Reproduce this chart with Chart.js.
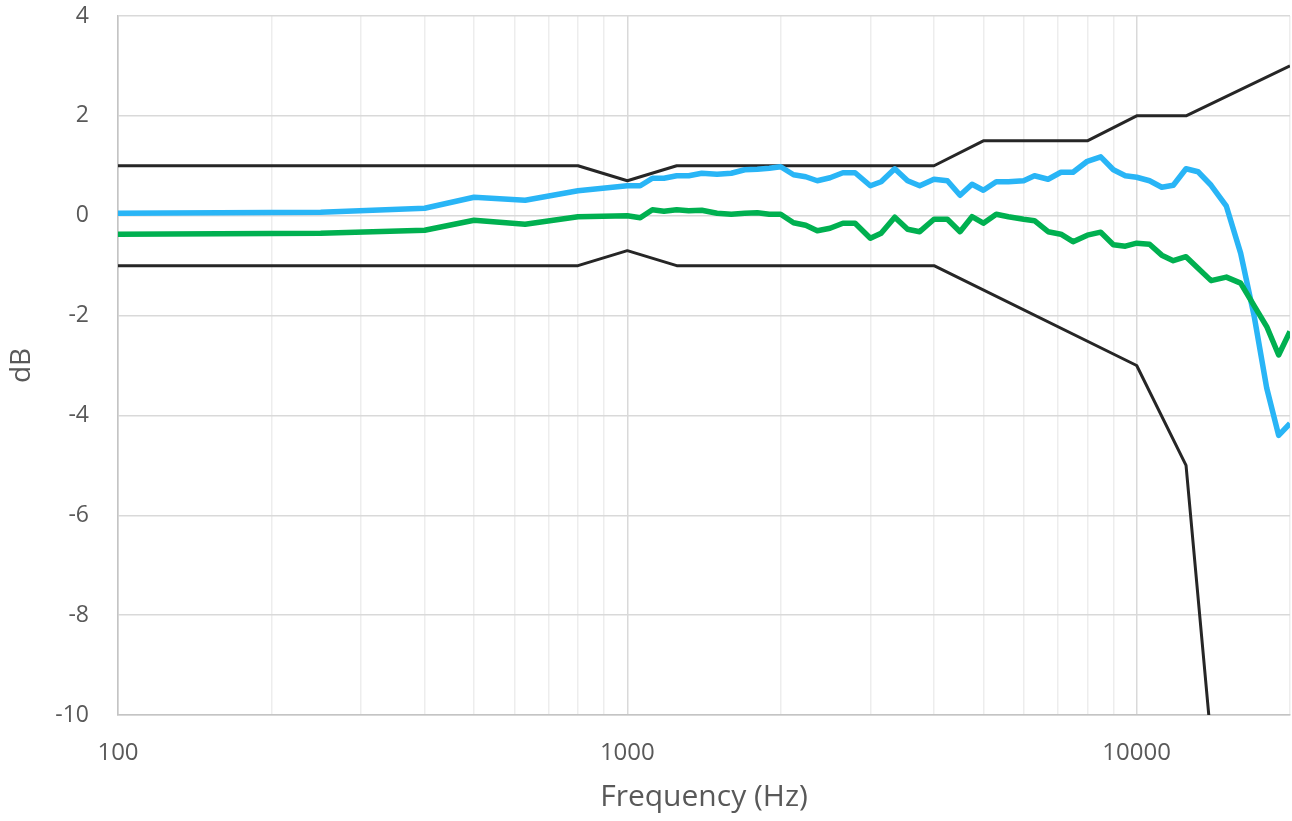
<!DOCTYPE html>
<html>
<head>
<meta charset="utf-8">
<title>Frequency response</title>
<script src="https://cdn.jsdelivr.net/npm/chart.js@4.4.1/dist/chart.umd.min.js"></script>
<style>
  html, body { margin: 0; padding: 0; background: #fff; }
  #wrap { width: 1292px; height: 821px; position: relative; }
</style>
</head>
<body>
<div id="wrap"><canvas id="chart"></canvas></div>
<script>
// Measured points (Hz)
const freqs = [
    100, 250, 400, 500, 630, 800,
    1000, 1060, 1120, 1180, 1250, 1320, 1400, 1500, 1600, 1700, 1800, 1900,
    2000, 2120, 2240, 2360, 2500, 2650, 2800, 3000, 3150, 3350, 3550, 3750,
    4000, 4250, 4500, 4750, 5000, 5300, 5600, 6000, 6300, 6700, 7100, 7500,
    8000, 8500, 9000, 9500, 10000, 10600, 11200, 11800, 12500, 13200, 14000,
    15000, 16000, 17000, 18000, 19000, 20000
];

const blueDb = [
    0.05, 0.07, 0.15, 0.37, 0.31, 0.50,
    0.60, 0.60, 0.75, 0.75, 0.80, 0.80, 0.85, 0.83, 0.85, 0.92, 0.93, 0.95,
    0.98, 0.82, 0.78, 0.70, 0.76, 0.86, 0.86, 0.60, 0.68, 0.94, 0.70, 0.60,
    0.73, 0.70, 0.41, 0.63, 0.51, 0.68, 0.68, 0.70, 0.80, 0.73, 0.87, 0.87,
    1.09, 1.18, 0.92, 0.80, 0.77, 0.70, 0.57, 0.61, 0.94, 0.88, 0.61,
    0.19, -0.75, -2.00, -3.45, -4.40, -4.16
];

const greenDb = [
    -0.37, -0.35, -0.29, -0.09, -0.17, -0.02,
    0.00, -0.04, 0.12, 0.09, 0.12, 0.10, 0.11, 0.05, 0.03, 0.05, 0.06, 0.03,
    0.03, -0.14, -0.19, -0.30, -0.25, -0.15, -0.15, -0.45, -0.35, -0.03, -0.27, -0.32,
    -0.07, -0.07, -0.32, -0.02, -0.15, 0.03, -0.02, -0.07, -0.10, -0.32, -0.37, -0.52,
    -0.39, -0.33, -0.58, -0.61, -0.55, -0.57, -0.79, -0.90, -0.82, -1.05, -1.30,
    -1.23, -1.35, -1.80, -2.22, -2.79, -2.32
];

// Tolerance limits
const upperFreqs = [100, 800, 1000, 1250, 4000, 5000, 8000, 10000, 12500, 20000];
const upperDb = [1, 1, 0.7, 1, 1, 1.5, 1.5, 2, 2, 3];
const lowerFreqs = [100, 800, 1000, 1250, 4000, 10000, 12500, 16000];
const lowerDb = [-1, -1, -0.7, -1, -1, -3, -5, -17];

// Axis ticks / gridlines
const xGridTicks = [
    100, 200, 300, 400, 500, 600, 700, 800, 900,
    1000, 2000, 3000, 4000, 5000, 6000, 7000, 8000, 9000,
    10000, 20000
];
const xLabelTicks = [100, 1000, 10000];

const FONT = '"Open Sans", "DejaVu Sans", sans-serif';
const TEXT = '#595959';

function toPoints(xs, ys) {
    return xs.map((x, i) => ({ x: x, y: ys[i] }));
}

function lineSet(label, xs, ys, color, width) {
    return {
        label: label,
        data: toPoints(xs, ys),
        borderColor: color,
        backgroundColor: color,
        borderWidth: width,
        pointRadius: 0,
        tension: 0,
        fill: false,
        borderJoinStyle: 'round',
        borderCapStyle: 'butt'
    };
}

new Chart(document.getElementById('chart'), {
    type: 'line',
    data: {
        datasets: [
            lineSet('Response 2', freqs, greenDb, '#00B050', 5.5),
            lineSet('Response 1', freqs, blueDb, '#29B5F6', 5.5),
            lineSet('Upper limit', upperFreqs, upperDb, '#262626', 3),
            lineSet('Lower limit', lowerFreqs, lowerDb, '#262626', 3)
        ]
    },
    options: {
        responsive: true,
        maintainAspectRatio: false,
        animation: false,
        layout: { padding: { left: 0, top: 16, right: 2, bottom: 0 } },
        plugins: {
            legend: { display: false },
            tooltip: { enabled: false }
        },
        scales: {
            x: {
                type: 'logarithmic',
                min: 100,
                max: 20000,
                afterBuildTicks: function(scale) {
                    scale.ticks = xGridTicks.map(v => ({ value: v }));
                },
                afterFit: function(scale) {
                    scale.height = 106;
                    scale.paddingLeft = 0;
                    scale.paddingRight = 0;
                },
                grid: {
                    drawTicks: false,
                    color: ctx => xLabelTicks.includes(ctx.tick && ctx.tick.value) ? '#d9d9d9' : '#ededed',
                    lineWidth: 1.5
                },
                border: { display: true, color: '#c4c4c4', width: 1.5 },
                ticks: {
                    autoSkip: false,
                    maxRotation: 0,
                    padding: 24,
                    color: TEXT,
                    font: { family: FONT, size: 24 },
                    callback: function(value) {
                        return xLabelTicks.includes(value) ? String(value) : '';
                    }
                },
                title: {
                    display: true,
                    text: 'Frequency (Hz)',
                    color: TEXT,
                    font: { family: FONT, size: 30 },
                    padding: { top: 0, bottom: 6 }
                }
            },
            y: {
                min: -10,
                max: 4,
                afterFit: function(scale) {
                    scale.width = 118;
                    scale.paddingTop = 0;
                    scale.paddingBottom = 0;
                },
                grid: { drawTicks: false, color: '#d9d9d9', lineWidth: 1.5 },
                border: { display: true, color: '#c4c4c4', width: 1.5 },
                ticks: {
                    stepSize: 2,
                    padding: 29,
                    color: TEXT,
                    font: { family: FONT, size: 23 }
                },
                title: {
                    display: true,
                    text: 'dB',
                    color: TEXT,
                    font: { family: FONT, size: 28 },
                    padding: { top: 5, bottom: 0 }
                }
            }
        }
    }
});
</script>
</body>
</html>
